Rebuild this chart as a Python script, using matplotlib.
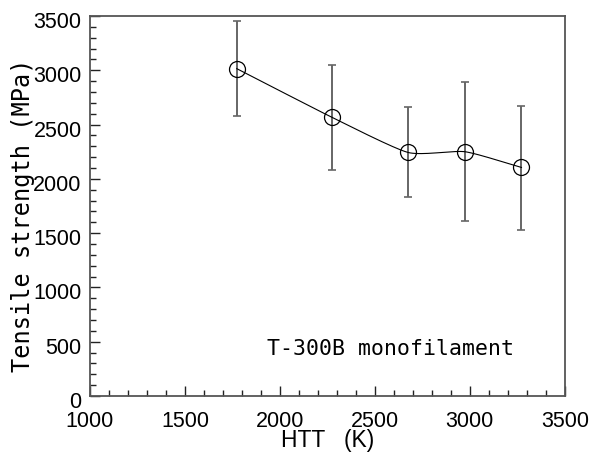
import numpy as np
import matplotlib
matplotlib.use("Agg")
import matplotlib.pyplot as plt
import matplotlib.transforms as mtransforms
from matplotlib.ticker import MultipleLocator

# Data
htt = [1773, 2275, 2675, 2974, 3272]
strength = [3015, 2566, 2243, 2250, 2105]
err_upper = [3457, 3048, 2658, 2888, 2673]
err_lower = [2578, 2085, 1829, 1611, 1526]

x_ticks = [1000, 1500, 2000, 2500, 3000, 3500]
y_ticks = [0, 500, 1000, 1500, 2000, 2500, 3000, 3500]
annotation = "T-300B monofilament"

fig = plt.figure(figsize=(5.92, 4.57), dpi=100)
ax = fig.add_axes([0.152, 0.1335, 0.802, 0.8315])

x = np.array(htt, float)
y = np.array(strength, float)

# smooth curve through the points (cardinal spline, moderate tension)
P = np.column_stack([x, y])
ext = np.vstack([2 * P[0] - P[1], P, 2 * P[-1] - P[-2]])
tension = 0.6
curve = []
t = np.linspace(0, 1, 40)
h00 = 2 * t**3 - 3 * t**2 + 1
h10 = t**3 - 2 * t**2 + t
h01 = -2 * t**3 + 3 * t**2
h11 = t**3 - t**2
for i in range(1, len(ext) - 2):
    p0, p1, p2, p3 = ext[i - 1], ext[i], ext[i + 1], ext[i + 2]
    m1 = tension * 0.5 * (p2 - p0)
    m2 = tension * 0.5 * (p3 - p1)
    seg = (h00[:, None] * p1 + h10[:, None] * m1 + h01[:, None] * p2 + h11[:, None] * m2)
    curve.append(seg)
curve = np.vstack(curve)
ax.plot(curve[:, 0], curve[:, 1], color="black", lw=0.8, zorder=2)

yerr = [y - np.array(err_lower), np.array(err_upper) - y]
ax.errorbar(x, y, yerr=yerr, fmt="none", ecolor="#666666", elinewidth=1.4,
            capsize=3, capthick=1.2, zorder=1)
ax.plot(x, y, "o", ms=11.5, mfc="none", mec="black", mew=0.9, zorder=3)

ax.set_xlim(1000, 3500)
ax.set_ylim(0, 3500)
ax.set_xticks(x_ticks)
ax.set_yticks(y_ticks)
ax.xaxis.set_minor_locator(MultipleLocator(100))
ax.yaxis.set_minor_locator(MultipleLocator(100))

for s in ax.spines.values():
    s.set_color("#555555")
    s.set_linewidth(1.3)

ax.tick_params(which="both", direction="in", top=False, right=False,
               color="#222222", width=1.0)
ax.tick_params(which="major", length=7)
ax.tick_params(which="minor", length=4)
ax.tick_params(axis="x", which="major", pad=11)
ax.tick_params(axis="y", which="major", pad=6)

for lab in ax.get_xticklabels() + ax.get_yticklabels():
    lab.set_fontfamily("Liberation Sans")
    lab.set_fontsize(15.5)

offset = mtransforms.ScaledTranslation(0, -0.04, fig.dpi_scale_trans)
for lab in ax.get_yticklabels():
    lab.set_transform(lab.get_transform() + offset)

ax.set_xlabel("HTT   (K)", fontfamily="Liberation Sans", fontsize=16.5, labelpad=-2)
ax.set_ylabel("Tensile strength (MPa)", fontfamily="DejaVu Sans Mono", fontsize=17,
              labelpad=0)
ax.yaxis.set_label_coords(-0.115, 0.475)

ax.text(1932, 377, annotation, fontfamily="DejaVu Sans Mono", fontsize=15.5,
        ha="left", va="baseline")

fig.savefig("out.png", dpi=100)
